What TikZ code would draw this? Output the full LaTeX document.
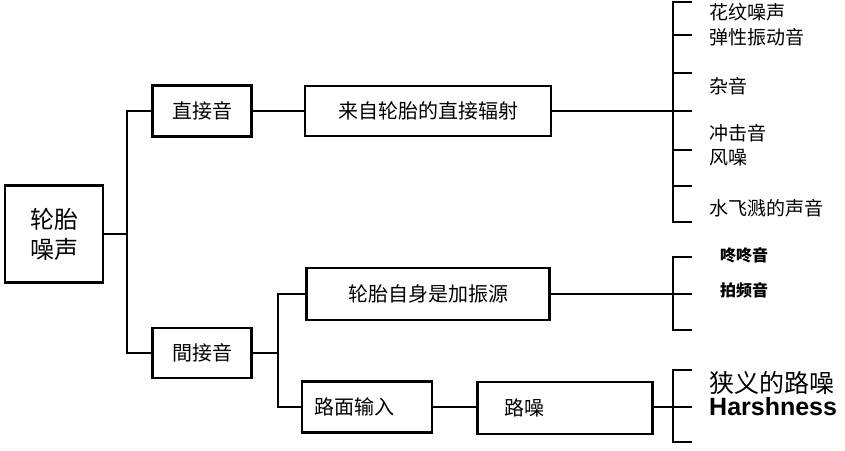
\documentclass[tikz,border=0pt]{standalone}
\usepackage{fontspec}
\newfontfamily\cjk{Noto Sans CJK SC}
\newfontfamily\harsh{Liberation Sans}
\tikzset{
  blk/.style={draw, line width=2.4pt, inner sep=0pt, font=\cjk\fontsize{20}{24}\selectfont},
  wire/.style={line width=2pt},
  lbl/.style={anchor=west, inner sep=0pt, font=\cjk\fontsize{19}{22}\selectfont},
}
\begin{document}
\begin{tikzpicture}[x=1pt,y=-1pt]
  \fill[white] (0,0) rectangle (845,450);
  \useasboundingbox (0,0) rectangle (845,450);

  % left boxes
  \node[blk, minimum width=98, minimum height=97, align=center,
        font=\cjk\fontsize{24}{30}\selectfont] (tire) at (54,234) {轮胎\\噪声};
  \node[blk, minimum width=99, minimum height=51] (direct) at (202,111) {直接音};
  \node[blk, minimum width=99, minimum height=50] (indirect) at (202,353) {間接音};

  % middle boxes
  \node[blk, minimum width=246, minimum height=50] (radiate) at (428,111) {来自轮胎的直接辐射};
  \node[blk, minimum width=243, minimum height=52] (self) at (428,294) {轮胎自身是加振源};
  \node[blk, minimum width=121, minimum height=51, text width=106, align=left,
        inner xsep=12] (road) at (367,407) {路面输入};
  \node[blk, minimum width=175, minimum height=52, text width=121, align=left,
        inner xsep=27] (noise) at (565,408) {路噪};

  % trunk lines
  \coordinate (trunk) at (127,234);
  \coordinate (split) at (278,353);
  \draw[wire] (tire.east) -- (trunk);
  \draw[wire] (direct.west) -| (trunk) |- (indirect.west);
  \draw[wire] (direct.east) -- (radiate.west);
  \draw[wire] (indirect.east) -- (split);
  \draw[wire] (self.west) -| (split) |- (road.west);
  \draw[wire] (road.east) -- (road.east -| noise.west);

  % brackets on the right
  \coordinate (b1) at (673,111);
  \coordinate (b2) at (673,294);
  \coordinate (b3) at (673,407);
  \draw[wire] (radiate.east) -- (b1) -- ++(19,0);
  \draw[wire] (self.east) -- (b2) -- ++(19,0);
  \draw[wire] (noise.west |- b3) ++(175,0) -- (b3) -- ++(19,0);
  \foreach \y in {1.5,35,73,150,186,222} {
    \draw[wire] (673,\y) -- ++(19,0);
  }
  \draw[wire] (673,0.5) -- (673,223);
  \foreach \y in {257,330} {
    \draw[wire] (673,\y) -- ++(19,0);
  }
  \draw[wire] (673,256) -- (673,331);
  \foreach \y in {370,442} {
    \draw[wire] (673,\y) -- ++(19,0);
  }
  \draw[wire] (673,369) -- (673,443);

  % labels of the first bracket
  \node[lbl] (pattern) at (709,12) {花纹噪声};
  \node[lbl] (elastic) at (709,37) {弹性振动音};
  \node[lbl] (misc) at (709,86) {杂音};
  \node[lbl] (impact) at (709,133) {冲击音};
  \node[lbl] (wind) at (709,158) {风噪};
  \node[lbl] (splash) at (709,208) {水飞溅的声音};

  % labels of the second bracket
  \node[lbl, font=\cjk\bfseries\fontsize{16}{18}\selectfont] (boom) at (720,255) {咚咚音};
  \node[lbl, font=\cjk\bfseries\fontsize{16}{18}\selectfont] (beat) at (720,290) {拍频音};

  % labels of the third bracket
  \node[lbl, font=\cjk\fontsize{25}{28}\selectfont] (narrow) at (709,383) {狭义的路噪};
  \node[lbl, font=\harsh\bfseries\fontsize{25}{28}\selectfont] (harsh) at (709,407) {Harshness};
\end{tikzpicture}
\end{document}
